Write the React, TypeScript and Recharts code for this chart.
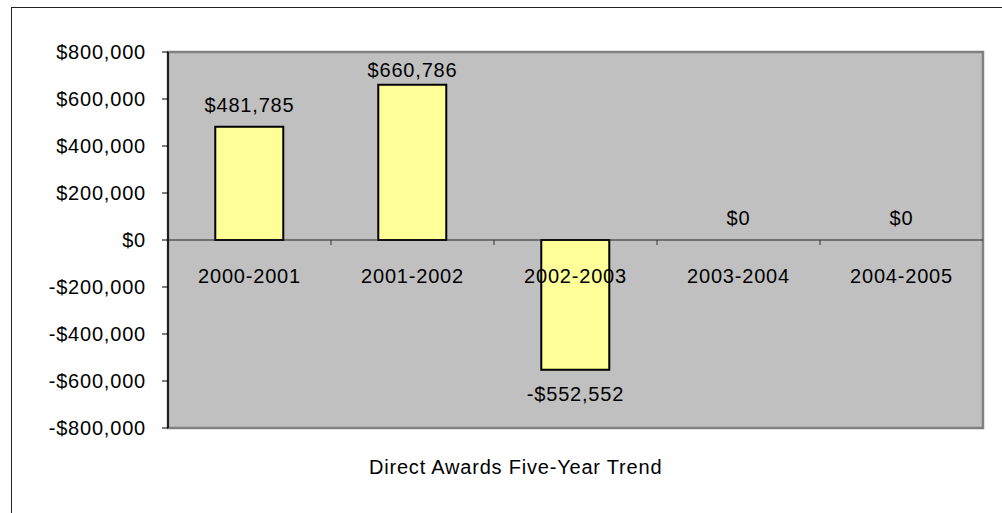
import React from 'react'
import {
  ComposedChart,
  Bar,
  Line,
  XAxis,
  YAxis,
  CartesianGrid,
  ReferenceLine,
  ReferenceArea,
  LabelList,
} from 'recharts'

const years = ['2000-2001', '2001-2002', '2002-2003', '2003-2004', '2004-2005']
const awards = [481785, 660786, -552552, 0, 0]
const yTicks = [-800000, -600000, -400000, -200000, 0, 200000, 400000, 600000, 800000]
const title = 'Direct Awards Five-Year Trend'

const data = years.map((year, i) => ({ year, awards: awards[i] }))

const W = 1002
const H = 513
const M = { top: 52, right: 19, bottom: 0, left: 0 }
const Y_AXIS_W = 168
const X_AXIS_H = 85
const PLOT_W = W - M.left - M.right - Y_AXIS_W
const PLOT_H = H - M.top - M.bottom - X_AXIS_H
const ZERO_Y = M.top + PLOT_H / 2
const BAND = PLOT_W / years.length

const font = {
  fontFamily: '"Liberation Sans", Arial, sans-serif',
  fontSize: 20,
  letterSpacing: 0.8,
  fill: '#000',
}

const money = (v: number) => (v < 0 ? '-$' : '$') + Math.abs(v).toLocaleString('en-US')

function YearTick({ x, payload, index }: any) {
  return (
    <g>
      {index > 0 && (
        <line x1={x - BAND / 2} x2={x - BAND / 2} y1={ZERO_Y} y2={ZERO_Y + 5} stroke="#333" strokeWidth={1} />
      )}
      <text x={x} y={ZERO_Y + 43} textAnchor="middle" {...font}>
        {payload.value}
      </text>
    </g>
  )
}

// label drawn at the end of each bar (point of an invisible line)
function ValueLabel({ x, y, value }: any) {
  // keep labels inside the plot area
  const baseline = value < 0 ? y + 31 : Math.max(y - 15, M.top + 25)
  return (
    <text x={x} y={baseline} textAnchor="middle" {...font}>
      {money(value)}
    </text>
  )
}

export default function App() {
  return (
    <div
      style={{
        position: 'absolute',
        left: 0,
        top: 0,
        width: W,
        height: H,
        overflow: 'hidden',
        background: '#fff',
      }}
    >
      <div
        style={{
          position: 'absolute',
          left: 11,
          top: 7,
          width: W + 20,
          height: H + 20,
          borderLeft: '1.5px solid #222',
          borderTop: '1.5px solid #222',
        }}
      />
      <ComposedChart width={W} height={H} data={data} margin={M} barCategoryGap="29%">
        <CartesianGrid horizontal={false} vertical={false} fill="#C0C0C0" />
        <ReferenceArea y1={-800000} y2={800000} fill="none" stroke="#808080" strokeWidth={2.5} ifOverflow="visible" />
        <YAxis
          width={Y_AXIS_W}
          domain={[-800000, 800000]}
          ticks={yTicks}
          tickFormatter={money}
          tick={font}
          tickSize={6}
          tickMargin={16}
          axisLine={{ stroke: '#000', strokeWidth: 1.5 }}
          tickLine={{ stroke: '#000' }}
          interval={0}
        />
        <ReferenceLine y={0} stroke="#222" strokeWidth={1.2} />
        <Bar dataKey="awards" fill="#FFFF99" stroke="#000" strokeWidth={2} isAnimationActive={false} />
        <Line
          dataKey="awards"
          stroke="none"
          dot={false}
          activeDot={false}
          legendType="none"
          isAnimationActive={false}
        >
          <LabelList dataKey="awards" content={<ValueLabel />} />
        </Line>
        <XAxis
          dataKey="year"
          height={X_AXIS_H}
          axisLine={false}
          tickLine={false}
          interval={0}
          tick={<YearTick />}
        />
      </ComposedChart>
      <div
        style={{
          position: 'absolute',
          left: 369,
          top: 457,
          lineHeight: '20px',
          fontFamily: '"Liberation Sans", Arial, sans-serif',
          fontSize: 20,
          letterSpacing: 0.8,
          color: '#000',
          whiteSpace: 'nowrap',
        }}
      >
        {title}
      </div>
    </div>
  )
}
